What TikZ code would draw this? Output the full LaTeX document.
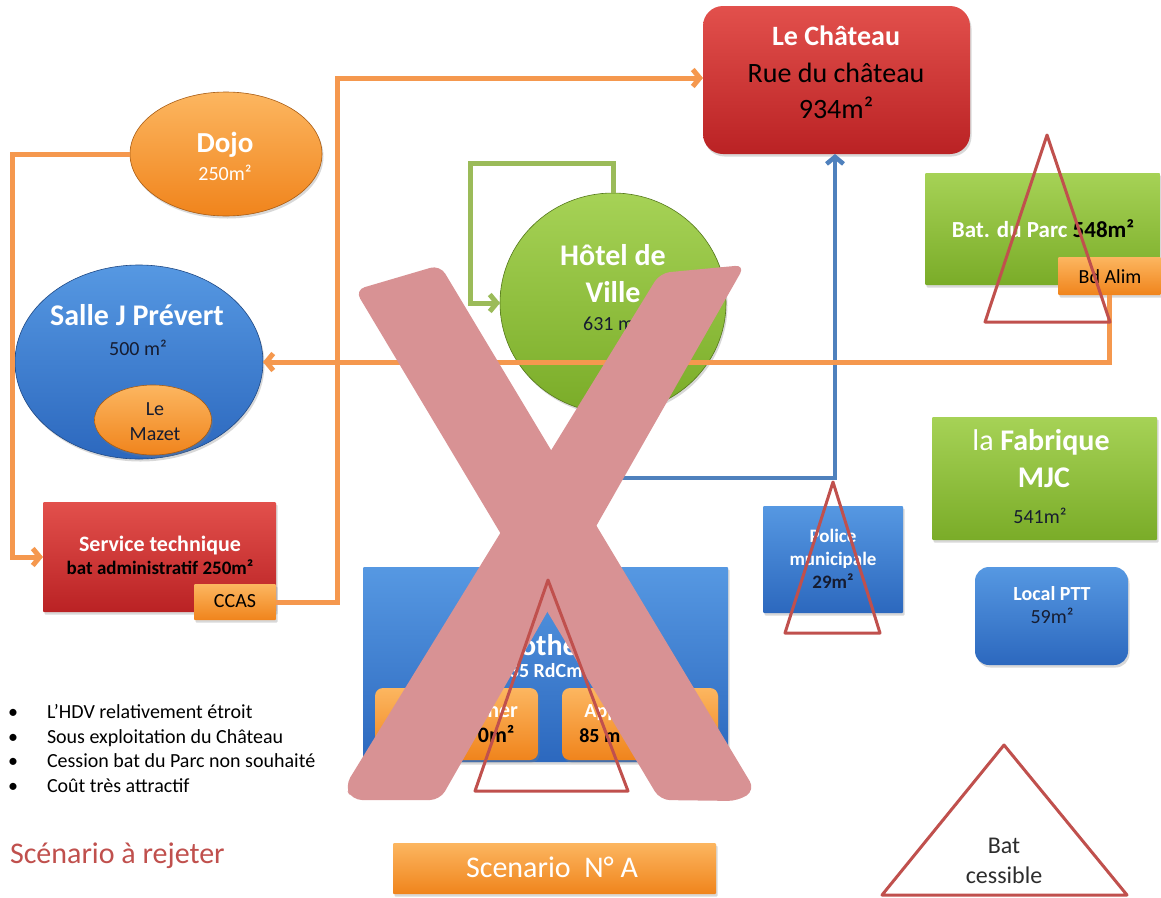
\documentclass[tikz,border=0pt]{standalone}
\usepackage{fontspec}
\setmainfont{Carlito}
\usetikzlibrary{arrows.meta,shapes.geometric,shadows}
\newcommand\fsz[1]{\fontsize{#1}{#1}\selectfont}
\newcommand\tx[5]{\node[txt,#4] (#1) at (#2,#3) {#5};}
\definecolor{redT}{RGB}{226,80,76}
\definecolor{redB}{RGB}{186,34,36}
\definecolor{orT}{RGB}{252,182,96}
\definecolor{orB}{RGB}{240,132,28}
\definecolor{bluT}{RGB}{86,152,226}
\definecolor{bluB}{RGB}{44,104,190}
\definecolor{grnT}{RGB}{166,210,86}
\definecolor{grnB}{RGB}{122,172,40}
\definecolor{orLine}{RGB}{245,152,78}
\definecolor{grLine}{RGB}{155,187,89}
\definecolor{blLine}{RGB}{79,129,189}
\definecolor{triRed}{RGB}{192,80,77}
\definecolor{xpink}{RGB}{216,146,148}
\definecolor{dk}{RGB}{22,28,48}
\definecolor{dktwo}{RGB}{45,45,45}
\definecolor{rejred}{RGB}{192,80,77}
\begin{document}
\begin{tikzpicture}[x=1pt,y=-1pt,
  base/.style={inner sep=0pt, outer sep=0pt, drop shadow={shadow xshift=1.5pt,shadow yshift=-2.5pt,opacity=0.3}},
  redbox/.style={base, rectangle, rounded corners=1pt, top color=redT, bottom color=redB},
  orbox/.style={base, rectangle, rounded corners=1pt, top color=orT, bottom color=orB},
  bluebox/.style={base, rectangle, rounded corners=1pt, top color=bluT, bottom color=bluB},
  greenbox/.style={base, rectangle, rounded corners=1pt, top color=grnT, bottom color=grnB},
  orell/.style={base, ellipse, top color=orT, bottom color=orB, draw=orB!70!black, line width=0.6pt},
  blueell/.style={base, ellipse, top color=bluT, bottom color=bluB, draw=bluB!70!black, line width=0.6pt},
  greenell/.style={base, ellipse, top color=grnT, bottom color=grnB, draw=grnB!70!black, line width=0.6pt},
  txt/.style={anchor=base, inner sep=0pt, outer sep=0pt, text=black},
  fr/.style={font=\fsz{#1}},
  fb/.style={font=\fsz{#1}\bfseries},
  oline/.style={draw=orLine, line width=5pt, -{Straight Barb[length=7pt,width=17pt]}},
  gline/.style={draw=grLine, line width=5pt, -{Straight Barb[length=7pt,width=17pt]}},
  bline/.style={draw=blLine, line width=4.5pt, -{Straight Barb[length=7pt,width=17pt]}},
  tri/.style={draw=triRed, line width=3pt, line join=round}]
\useasboundingbox (0,0) rectangle (1161,897);
\fill[white] (0,0) rectangle (1161,897);

% ---------- shapes ----------
\node[redbox, rounded corners=20pt, minimum width=267pt, minimum height=148pt] (chateau) at (836.5,80) {};
\node[orell, minimum width=192pt, minimum height=124pt] (dojo) at (226,154) {};
\node[blueell, minimum width=248pt, minimum height=194pt] (salle) at (139,362) {};
\node[orell, minimum width=117pt, minimum height=70pt] (mazet) at (153,420) {};
\node[redbox, minimum width=233pt, minimum height=110pt] (st) at (159.5,557) {};
\node[orbox, minimum width=82pt, minimum height=36pt] (ccas) at (235,602) {};
\node[greenell, minimum width=226pt, minimum height=220pt] (hdv) at (613,303) {};
\node[greenbox, minimum width=235pt, minimum height=112pt] (parc) at (1042.5,229) {};
\node[orbox, minimum width=103pt, minimum height=38pt] (bdalim) at (1109.5,276) {};
\node[bluebox, minimum width=140pt, minimum height=107pt] (police) at (833,559.5) {};
\node[greenbox, minimum width=225pt, minimum height=123pt] (fab) at (1044.5,478.5) {};
\node[bluebox, rounded corners=14pt, minimum width=153pt, minimum height=98pt] (ptt) at (1051.5,616) {};
\node[bluebox, minimum width=365pt, minimum height=195pt] (biblio) at (545.5,664.5) {};
\node[orbox, rounded corners=8pt, minimum width=163pt, minimum height=72pt] (boucher) at (456.5,724) {};
\node[orbox, rounded corners=8pt, minimum width=156pt, minimum height=72pt] (appart) at (640,724) {};
\node[orbox, minimum width=323pt, minimum height=51pt] (scen) at (554.5,868.5) {};

% ---------- texts ----------
\tx{chTa}{836}{45}{fb=28, text=white}{Le Château}
\tx{chTb}{836}{82}{fr=28}{Rue du château}
\tx{chTc}{836}{118}{fr=28}{934m²}
\tx{dojoTa}{225}{152}{fb=29, text=white}{Dojo}
\tx{dojoTb}{225}{180}{fr=20, text=white}{250m²}
\tx{salTa}{137}{325}{fb=30, text=white}{Salle J Prévert}
\tx{salTb}{138}{355}{fr=20, text=dk}{500 m²}
\tx{mzTa}{155}{415}{fr=20, text=dk}{Le}
\tx{mzTb}{155}{440}{fr=20, text=dk}{Mazet}
\tx{stTa}{160}{551}{fb=22, text=white}{Service technique}
\tx{stTb}{160}{574}{fb=19}{bat administratif 250m²}
\tx{ccasT}{235}{607}{fr=20}{CCAS}
\tx{hdvTa}{613}{265}{fb=30, text=white}{Hôtel de}
\tx{hdvTb}{613}{302}{fb=30, text=white}{Ville}
\tx{hdvTc}{612}{330}{fr=20, text=dk}{631 m²}
\tx{parcT}{1043}{237}{fb=23, text=white}{Bat. du Parc \textcolor{black}{548m²}}
\tx{bdT}{1110}{283}{fr=20}{Bd Alim}
\tx{polTa}{833}{542}{fb=19, text=white}{Police}
\tx{polTb}{833}{565}{fb=19, text=white}{municipale}
\tx{polTc}{833}{588}{fb=19, text=dk}{29m²}
\tx{fabTa}{1041}{450}{fb=30, text=white}{{\mdseries la} Fabrique}
\tx{fabTb}{1044}{487}{fb=30, text=white}{MJC}
\tx{fabTc}{1040}{523}{fr=20, text=dk}{541m²}
\tx{pttTa}{1052}{600}{fb=20, text=white}{Local PTT}
\tx{pttTb}{1052}{623}{fr=20, text=dk}{59m²}
\tx{biTa}{545}{655}{fb=30, text=white}{Bibliothèque}
\tx{biTb}{544}{677}{fb=20, text=white}{135 RdCm²}
\tx{boTa}{456}{717}{fb=22, text=white}{Salle Boucher}
\tx{boTb}{456}{742}{fb=22}{(étage) 70m²}
\tx{apTa}{640}{717}{fb=20, text=white}{Appartement}
\tx{apTb}{640}{742}{fb=20}{85 m² à l'étage}
\tx{scT}{552}{877}{fr=30, text=white}{Scenario\ \ N° A}

% bullets
\tx{bua}{13}{718}{fr=20}{•}
\tx{bub}{13}{743}{fr=20}{•}
\tx{buc}{13}{767}{fr=20}{•}
\tx{bud}{13}{792}{fr=20}{•}
\tx{bta}{47}{718}{fr=20, anchor=base west}{L’HDV relativement étroit}
\tx{btb}{47}{743}{fr=20, anchor=base west}{Sous exploitation du Château}
\tx{btc}{47}{767}{fr=20, anchor=base west}{Cession bat du Parc non souhaité}
\tx{btd}{47}{792}{fr=20, anchor=base west}{Coût très attractif}
\tx{rejT}{10}{863}{fr=30, text=rejred, anchor=base west}{Scénario à rejeter}

% ---------- connectors ----------
\coordinate (c1) at (12,154);
\draw[oline] (dojo.west) -- (c1) |- (st.west);
\coordinate (b1) at (835,478);
\draw[bline] (hdv.south) |- (b1) -- (b1 |- chateau.south);
\coordinate (c2) at (337,78);
\draw[oline] (ccas.east) -| (c2) -- (chateau.west |- c2);
\draw[oline] (bdalim.south) |- (salle.east);
\coordinate (g1) at (470,163);
\draw[gline] (hdv.north) |- (g1) |- (hdv.west);

% ---------- the big X ----------
\fill[xpink, rounded corners=10pt] (355,290) -- (440,265) -- (755,790) -- (738,801) -- (660,800) -- cycle;
\fill[xpink, rounded corners=10pt] (660,273) -- (745,265) -- (440,800) -- (352,800) -- (345,786) -- cycle;

% ---------- triangles ----------
\draw[tri] (1047,135) -- (1110,322) -- (985,322) -- cycle;
\draw[tri] (833,482) -- (880,633) -- (785,633) -- cycle;
\draw[tri] (548,580) -- (628,791) -- (475,791) -- cycle;
\draw[tri] (1004,745) -- (1127,895) -- (882,895) -- cycle;
\tx{lgTa}{1004}{853}{fr=24, text=dktwo}{Bat}
\tx{lgTb}{1004}{883}{fr=24, text=dktwo}{cessible}
\end{tikzpicture}
\end{document}
